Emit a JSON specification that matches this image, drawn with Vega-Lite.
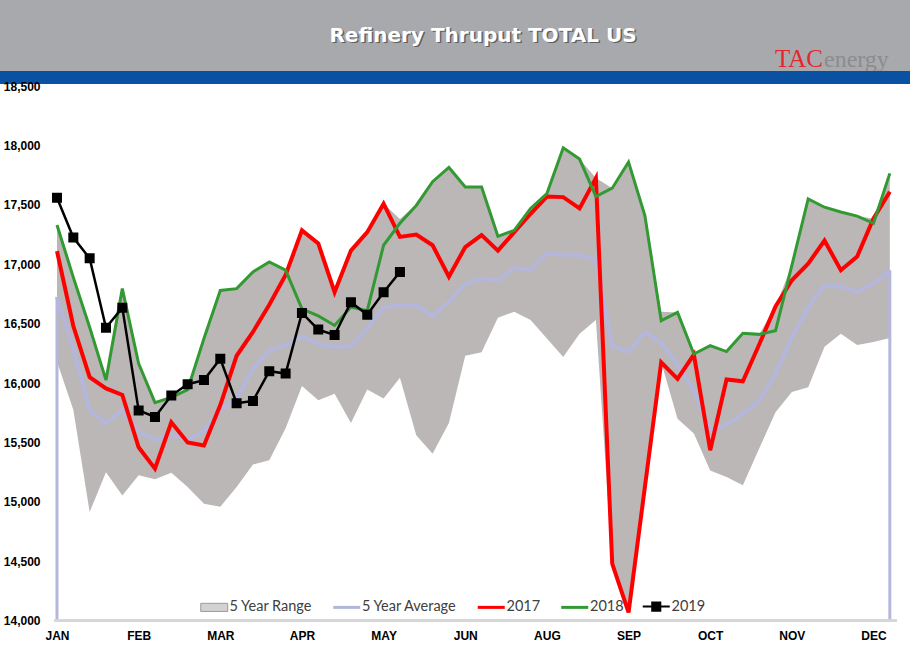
{
  "$schema": "https://vega.github.io/schema/vega-lite/v6.json",
  "padding": 0,
  "background": "white",
  "spacing": 0,
  "bounds": "flush",
  "config": {"view": {"stroke": null}},
  "vconcat": [
    {
      "width": 910, "height": 71,
      "view": {"fill": "#a8a9ad", "stroke": null},
      "data": {"values": [{"title": "Refinery Thruput TOTAL US", "logo1": "TAC", "logo2": "energy"}]},
      "layer": [
        {"mark": {"type": "text", "font": "DejaVu Sans", "fontWeight": "bold", "fontSize": 20, "color": "#4d4d4d", "dx": 29.5, "dy": 1.5, "opacity": 0.8}, "encoding": {"text": {"field": "title"}}},
        {"mark": {"type": "text", "font": "DejaVu Sans", "fontWeight": "bold", "fontSize": 20, "color": "#ffffff", "dx": 28, "dy": 0}, "encoding": {"text": {"field": "title"}}},
        {"mark": {"type": "text", "font": "Liberation Serif", "fontSize": 25, "color": "#e2282d", "align": "left", "baseline": "alphabetic", "dx": 320, "dy": 31}, "encoding": {"text": {"field": "logo1"}}},
        {"mark": {"type": "text", "font": "Liberation Serif", "fontSize": 24, "color": "#8c8c8c", "align": "left", "baseline": "alphabetic", "dx": 369, "dy": 31}, "encoding": {"text": {"field": "logo2"}}}
      ]
    },
    {
      "width": 910, "height": 13,
      "view": {"fill": "#0b51a2", "stroke": null},
      "data": {"values": [{"t": ""}]},
      "mark": {"type": "text"},
      "encoding": {"text": {"field": "t"}}
    },
    {
      "width": 910, "height": 575,
      "view": {"fill": "white", "stroke": null},
      "data": {"values": [
        {"week": 0, "lo": 16180, "hi": 17330, "avg": 16725, "y2017": 17110, "y2018": 17330, "y2019": 17560},
        {"week": 1, "lo": 15775, "hi": 16890, "avg": 16290, "y2017": 16480, "y2018": 16890, "y2019": 17225},
        {"week": 2, "lo": 14915, "hi": 16470, "avg": 15770, "y2017": 16050, "y2018": 16470, "y2019": 17050},
        {"week": 3, "lo": 15250, "hi": 16025, "avg": 15660, "y2017": 15955, "y2018": 16025, "y2019": 16465},
        {"week": 4, "lo": 15055, "hi": 16795, "avg": 15775, "y2017": 15900, "y2018": 16795, "y2019": 16635},
        {"week": 5, "lo": 15225, "hi": 16165, "avg": 15590, "y2017": 15460, "y2018": 16165, "y2019": 15770},
        {"week": 6, "lo": 15190, "hi": 15835, "avg": 15520, "y2017": 15280, "y2018": 15835, "y2019": 15715},
        {"week": 7, "lo": 15245, "hi": 15880, "avg": 15565, "y2017": 15670, "y2018": 15880, "y2019": 15895},
        {"week": 8, "lo": 15125, "hi": 15945, "avg": 15520, "y2017": 15500, "y2018": 15945, "y2019": 15990},
        {"week": 9, "lo": 14985, "hi": 16375, "avg": 15600, "y2017": 15475, "y2018": 16375, "y2019": 16025},
        {"week": 10, "lo": 14960, "hi": 16780, "avg": 15770, "y2017": 15815, "y2018": 16780, "y2019": 16205},
        {"week": 11, "lo": 15125, "hi": 16795, "avg": 15870, "y2017": 16230, "y2018": 16795, "y2019": 15830},
        {"week": 12, "lo": 15315, "hi": 16935, "avg": 16120, "y2017": 16430, "y2018": 16935, "y2019": 15850},
        {"week": 13, "lo": 15350, "hi": 17020, "avg": 16275, "y2017": 16660, "y2018": 17020, "y2019": 16100},
        {"week": 14, "lo": 15620, "hi": 16950, "avg": 16320, "y2017": 16910, "y2018": 16950, "y2019": 16080},
        {"week": 15, "lo": 15975, "hi": 17290, "avg": 16395, "y2017": 17285, "y2018": 16625, "y2019": 16590},
        {"week": 16, "lo": 15855, "hi": 17175, "avg": 16330, "y2017": 17175, "y2018": 16565, "y2019": 16450},
        {"week": 17, "lo": 15910, "hi": 16770, "avg": 16305, "y2017": 16765, "y2018": 16485, "y2019": 16405},
        {"week": 18, "lo": 15665, "hi": 17120, "avg": 16310, "y2017": 17115, "y2018": 16640, "y2019": 16680},
        {"week": 19, "lo": 15945, "hi": 17275, "avg": 16460, "y2017": 17270, "y2018": 16610, "y2019": 16575},
        {"week": 20, "lo": 15870, "hi": 17510, "avg": 16640, "y2017": 17510, "y2018": 17160, "y2019": 16765},
        {"week": 21, "lo": 16045, "hi": 17380, "avg": 16655, "y2017": 17230, "y2018": 17345, "y2019": 16935},
        {"week": 22, "lo": 15560, "hi": 17500, "avg": 16655, "y2017": 17250, "y2018": 17495, "y2019": null},
        {"week": 23, "lo": 15405, "hi": 17695, "avg": 16565, "y2017": 17160, "y2018": 17695, "y2019": null},
        {"week": 24, "lo": 15665, "hi": 17815, "avg": 16685, "y2017": 16895, "y2018": 17815, "y2019": null},
        {"week": 25, "lo": 16230, "hi": 17650, "avg": 16835, "y2017": 17145, "y2018": 17650, "y2019": null},
        {"week": 26, "lo": 16260, "hi": 17650, "avg": 16880, "y2017": 17245, "y2018": 17650, "y2019": null},
        {"week": 27, "lo": 16550, "hi": 17235, "avg": 16865, "y2017": 17115, "y2018": 17235, "y2019": null},
        {"week": 28, "lo": 16600, "hi": 17285, "avg": 16970, "y2017": 17270, "y2018": 17285, "y2019": null},
        {"week": 29, "lo": 16530, "hi": 17470, "avg": 16950, "y2017": 17425, "y2018": 17470, "y2019": null},
        {"week": 30, "lo": 16375, "hi": 17595, "avg": 17095, "y2017": 17570, "y2018": 17595, "y2019": null},
        {"week": 31, "lo": 16220, "hi": 17980, "avg": 17080, "y2017": 17565, "y2018": 17980, "y2019": null},
        {"week": 32, "lo": 16415, "hi": 17885, "avg": 17080, "y2017": 17470, "y2018": 17885, "y2019": null},
        {"week": 33, "lo": 16530, "hi": 17725, "avg": 17035, "y2017": 17725, "y2018": 17570, "y2019": null},
        {"week": 34, "lo": 14480, "hi": 17640, "avg": 16310, "y2017": 14480, "y2018": 17640, "y2019": null},
        {"week": 35, "lo": 14070, "hi": 17860, "avg": 16262, "y2017": 14070, "y2018": 17860, "y2019": null},
        {"week": 36, "lo": 15125, "hi": 17410, "avg": 16428, "y2017": 15125, "y2018": 17410, "y2019": null},
        {"week": 37, "lo": 16175, "hi": 16600, "avg": 16340, "y2017": 16175, "y2018": 16525, "y2019": null},
        {"week": 38, "lo": 15700, "hi": 16595, "avg": 16155, "y2017": 16035, "y2018": 16595, "y2019": null},
        {"week": 39, "lo": 15575, "hi": 16245, "avg": 15940, "y2017": 16240, "y2018": 16245, "y2019": null},
        {"week": 40, "lo": 15265, "hi": 16315, "avg": 15595, "y2017": 15435, "y2018": 16315, "y2019": null},
        {"week": 41, "lo": 15210, "hi": 16265, "avg": 15650, "y2017": 16030, "y2018": 16265, "y2019": null},
        {"week": 42, "lo": 15140, "hi": 16420, "avg": 15740, "y2017": 16015, "y2018": 16420, "y2019": null},
        {"week": 43, "lo": 15450, "hi": 16410, "avg": 15850, "y2017": 16325, "y2018": 16410, "y2019": null},
        {"week": 44, "lo": 15755, "hi": 16645, "avg": 16080, "y2017": 16645, "y2018": 16440, "y2019": null},
        {"week": 45, "lo": 15925, "hi": 16990, "avg": 16380, "y2017": 16865, "y2018": 16990, "y2019": null},
        {"week": 46, "lo": 15965, "hi": 17550, "avg": 16640, "y2017": 17005, "y2018": 17550, "y2019": null},
        {"week": 47, "lo": 16305, "hi": 17480, "avg": 16820, "y2017": 17200, "y2018": 17480, "y2019": null},
        {"week": 48, "lo": 16415, "hi": 17440, "avg": 16812, "y2017": 16950, "y2018": 17440, "y2019": null},
        {"week": 49, "lo": 16320, "hi": 17405, "avg": 16765, "y2017": 17065, "y2018": 17405, "y2019": null},
        {"week": 50, "lo": 16345, "hi": 17385, "avg": 16837, "y2017": 17385, "y2018": 17345, "y2019": null},
        {"week": 51, "lo": 16380, "hi": 17765, "avg": 16950, "y2017": 17610, "y2018": 17765, "y2019": null}
      ]},
      "layer": [
        {
          "mark": {"type": "area", "interpolate": "linear", "color": "#bbb7b7", "opacity": 1},
          "encoding": {
            "x": {"field": "week", "type": "quantitative",
              "scale": {"domain": [-3.49, 52.235], "nice": false, "zero": false},
              "axis": {"orient": "bottom", "values": [0, 5, 10, 15, 20, 25, 30, 35, 40, 45, 50],
                "labelExpr": "['JAN','FEB','MAR','APR','MAY','JUN','AUG','SEP','OCT','NOV','DEC'][round(datum.value/5)]",
                "offset": -38, "labelPadding": 9, "ticks": false, "domain": false, "grid": false, "title": null,
                "labelFont": "Liberation Sans", "labelFontSize": 12, "labelFontWeight": "bold", "labelColor": "#000000",
                "labelFlush": false, "labelOverlap": false}},
            "y": {"field": "lo", "type": "quantitative",
              "scale": {"domain": [13678, 18517], "nice": false, "zero": false},
              "axis": {"orient": "left", "values": [14000, 14500, 15000, 15500, 16000, 16500, 17000, 17500, 18000, 18500],
                "labelExpr": "format(datum.value, ',')", "offset": -42, "labelPadding": 2, "ticks": false, "domain": false, "grid": false, "title": null,
                "labelFont": "Liberation Sans", "labelFontSize": 12, "labelFontWeight": "bold", "labelColor": "#000000",
                "labelFlush": false, "labelOverlap": false}},
            "y2": {"field": "hi"}
          }
        },
        {
          "transform": [{"filter": "datum.week == 0 || datum.week == 51"}],
          "mark": {"type": "rule", "color": "#b4b6dc", "strokeWidth": 3},
          "encoding": {
            "x": {"field": "week", "type": "quantitative"},
            "y": {"field": "avg", "type": "quantitative"},
            "y2": {"datum": 14000}
          }
        },
        {
          "mark": {"type": "rule", "color": "#d6d6d6", "strokeWidth": 2},
          "encoding": {
            "y": {"datum": 14000, "type": "quantitative"},
            "x": {"datum": -0.15, "type": "quantitative"},
            "x2": {"datum": 51.4}
          }
        },
        {
          "mark": {"type": "line", "strokeWidth": 4, "interpolate": "linear"},
          "encoding": {
            "x": {"field": "week", "type": "quantitative"},
            "y": {"field": "avg", "type": "quantitative"},
            "stroke": {"datum": "5 Year Average", "type": "nominal",
              "scale": {"domain": ["5 Year Range", "5 Year Average", "2017", "2018", "2019"],
                "range": ["#9e9a9a", "#b4b6dc", "#ff0000", "#339933", "#000000"]},
              "legend": {
                "orient": "none", "legendX": 207, "legendY": 599, "direction": "horizontal", "title": null,
                "labelFont": "Lato", "labelFontSize": 14.5, "labelColor": "#404040", "labelOffset": 8,
                "symbolSize": 729, "columnPadding": 13.5, "padding": 0,
                "encode": {"symbols": {"update": {
                  "shape": {"signal": "datum.value === '5 Year Range' ? 'M-1,-0.3H1V0.3H-1Z' : datum.value === '2019' ? 'M-1,0H1M-0.3,-0.3H0.3V0.3H-0.3Z' : 'M-1,0H1'"},
                  "fill": {"signal": "datum.value === '5 Year Range' ? '#d4d1d1' : datum.value === '2019' ? '#000000' : 'transparent'"},
                  "strokeWidth": {"signal": "datum.value === '5 Year Range' ? 1 : datum.value === '2019' ? 2 : 3"},
                  "opacity": {"value": 1}
                }}}
              }}
          }
        },
        {
          "mark": {"type": "line", "strokeWidth": 4, "interpolate": "linear"},
          "encoding": {
            "x": {"field": "week", "type": "quantitative"},
            "y": {"field": "y2017", "type": "quantitative"},
            "stroke": {"datum": "2017", "type": "nominal", "legend": null}
          }
        },
        {
          "mark": {"type": "line", "strokeWidth": 3, "interpolate": "linear"},
          "encoding": {
            "x": {"field": "week", "type": "quantitative"},
            "y": {"field": "y2018", "type": "quantitative"},
            "stroke": {"datum": "2018", "type": "nominal", "legend": null}
          }
        },
        {
          "mark": {"type": "line", "strokeWidth": 2.5, "interpolate": "linear",
            "point": {"shape": "square", "filled": true, "size": 64, "color": "#000000", "opacity": 1}},
          "encoding": {
            "x": {"field": "week", "type": "quantitative"},
            "y": {"field": "y2019", "type": "quantitative"},
            "stroke": {"datum": "2019", "type": "nominal", "legend": null}
          }
        }
      ]
    }
  ]
}
